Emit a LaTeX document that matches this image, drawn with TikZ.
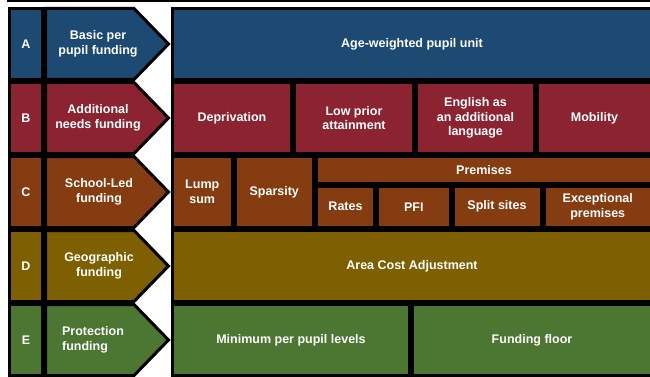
\documentclass[tikz,border=0pt]{standalone}
\usepackage{fontspec}
\setmainfont{Liberation Sans}
\definecolor{rowA}{HTML}{1D4A72}
\definecolor{rowB}{HTML}{8C2331}
\definecolor{rowC}{HTML}{853C10}
\definecolor{rowD}{HTML}{7F6000}
\definecolor{rowE}{HTML}{4B7732}
\tikzset{
  cell/.style 2 args={draw=black, line width=3pt, text=white,
    font=\bfseries\fontsize{12.5}{14.5}\selectfont, align=center,
    inner sep=0pt, minimum width=#1, minimum height=#2},
  tag/.style={text=white, font=\bfseries\fontsize{12.5}{14.5}\selectfont,
    align=center, inner sep=0pt},
  edge/.style={draw=black, line width=3pt, line join=miter}
}
\begin{document}
\begin{tikzpicture}[x=1pt, y=-1pt]
  \useasboundingbox (0,0) rectangle (650,377);
  \draw[line width=2pt] (7,1.5) -- (650,1.5);
  % left column: letters and arrows
  \foreach \lt/\cy/\col in {A/44/rowA, B/118/rowB, C/192/rowC, D/266/rowD, E/340/rowE} {
    \node[cell={33}{71}, fill=\col] (l\lt) at (26,\cy) {\lt};
    \draw[edge, fill=\col] (45.5,\cy-35.5) -- (134,\cy-35.5) -- (168.5,\cy)
      -- (134,\cy+35.5) -- (45.5,\cy+35.5) -- cycle;
  }
  \node[tag] (tA) at (98,44) {Basic per\\pupil funding};
  \node[tag] (tB) at (98,118) {Additional\\needs funding};
  \node[tag] (tC) at (99,192) {School-Led\\funding};
  \node[tag] (tD) at (99,266) {Geographic\\funding};
  \node[tag, align=left] (tE) at (93,340) {Protection\\funding};
  % A
  \node[cell={479}{71}, fill=rowA] (age) at (412,44) {Age-weighted pupil unit};
  % B
  \node[cell={119}{71}, fill=rowB] (dep) at (232,118) {Deprivation};
  \node[cell={119}{71}, fill=rowB] (low) at (354,118) {Low prior\\attainment};
  \node[cell={118}{71}, fill=rowB] (eal) at (475.5,118) {English as\\an additional\\language};
  \node[cell={114}{71}, fill=rowB] (mob) at (594.5,118) {Mobility};
  % C
  \node[cell={59.5}{71}, fill=rowC] (lump) at (202.25,192) {Lump\\sum};
  \node[cell={78.5}{71}, fill=rowC] (spar) at (274.25,192) {Sparsity};
  \node[cell={335}{26.5}, fill=rowC] (prem) at (484,169.75) {Premises};
  \node[cell={58}{41.5}, fill=rowC] (rates) at (345.5,206.75) {Rates};
  \node[cell={72.5}{41.5}, fill=rowC] (pfi) at (413.75,206.75) {PFI};
  \node[cell={88}{41.5}, fill=rowC] (split) at (497,206.75) {Split sites};
  \node[cell={107.5}{41.5}, fill=rowC] (exc) at (597.75,206.75) {Exceptional\\premises};
  % D
  \node[cell={479}{71}, fill=rowD] (aca) at (412,266) {Area Cost Adjustment};
  % E
  \node[cell={237}{71}, fill=rowE] (minp) at (291,340) {Minimum per pupil levels};
  \node[cell={239}{71}, fill=rowE] (floor) at (532,340) {Funding floor};
\end{tikzpicture}
\end{document}
